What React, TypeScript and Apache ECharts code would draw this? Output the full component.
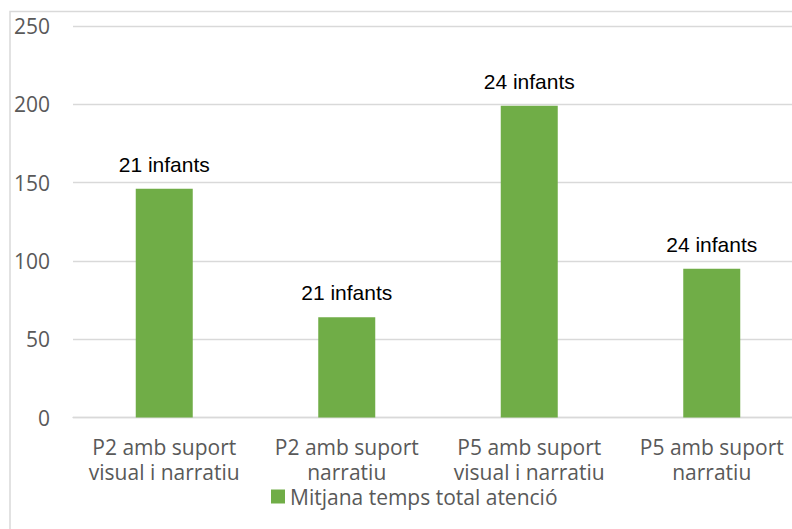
import React, { useEffect, useRef } from "react";
import * as echarts from "echarts";

const categories = [
  "P2 amb suport\nvisual i narratiu",
  "P2 amb suport\nnarratiu",
  "P5 amb suport\nvisual i narratiu",
  "P5 amb suport\nnarratiu",
];
const seriesName = "Mitjana temps total atenció";
const values = [146, 64, 199, 95];
const barLabels = ["21 infants", "21 infants", "24 infants", "24 infants"];
const yTicks = { min: 0, max: 250, interval: 50 };

export default function App() {
  const ref = useRef<HTMLDivElement>(null);
  useEffect(() => {
    document.body.style.margin = "0";
    const chart = echarts.init(ref.current!, null, { renderer: "svg" });
    const font = "'Open Sans', sans-serif";
    chart.setOption({
      animation: false,
      backgroundColor: "#ffffff",
      graphic: [
        {
          type: "rect",
          shape: { x: 10, y: 11.5, width: 840, height: 560 },
          style: { fill: "none", stroke: "#d9d9d9", lineWidth: 1.5 },
          z: -1,
        },
      ],
      grid: { left: 73, top: 26, width: 730, height: 391.5, containLabel: false },
      legend: {
        left: 266,
        top: 481,
        icon: "rect",
        itemWidth: 14,
        itemHeight: 14,
        textStyle: { fontFamily: font, fontSize: 21, color: "#595959" },
        data: [seriesName],
      },
      xAxis: {
        type: "category",
        data: categories,
        axisLine: { show: true, lineStyle: { color: "#d9d9d9", width: 1.3 } },
        axisTick: { show: false },
        axisLabel: {
          interval: 0,
          fontFamily: font,
          fontSize: 21,
          lineHeight: 25,
          color: "#595959",
          margin: 17,
        },
      },
      yAxis: {
        type: "value",
        min: yTicks.min,
        max: yTicks.max,
        interval: yTicks.interval,
        axisLine: { show: false },
        axisTick: { show: false },
        splitLine: { lineStyle: { color: "#d9d9d9", width: 1.3 } },
        axisLabel: {
          fontFamily: font,
          fontSize: 21,
          color: "#595959",
          margin: 23,
        },
      },
      series: [
        {
          name: seriesName,
          type: "bar",
          data: values,
          barWidth: 57,
          itemStyle: { color: "#70ad47" },
          label: {
            show: true,
            position: "top",
            distance: 14,
            fontFamily: "'Liberation Sans', Arial, sans-serif",
            fontSize: 21,
            color: "#000000",
            formatter: (p: any) => barLabels[p.dataIndex],
          },
        },
      ],
    });
    return () => chart.dispose();
  }, []);
  return (
    <div style={{ width: 792, height: 529, overflow: "hidden", position: "relative" }}>
      <div ref={ref} style={{ width: 840, height: 529 }} />
    </div>
  );
}
